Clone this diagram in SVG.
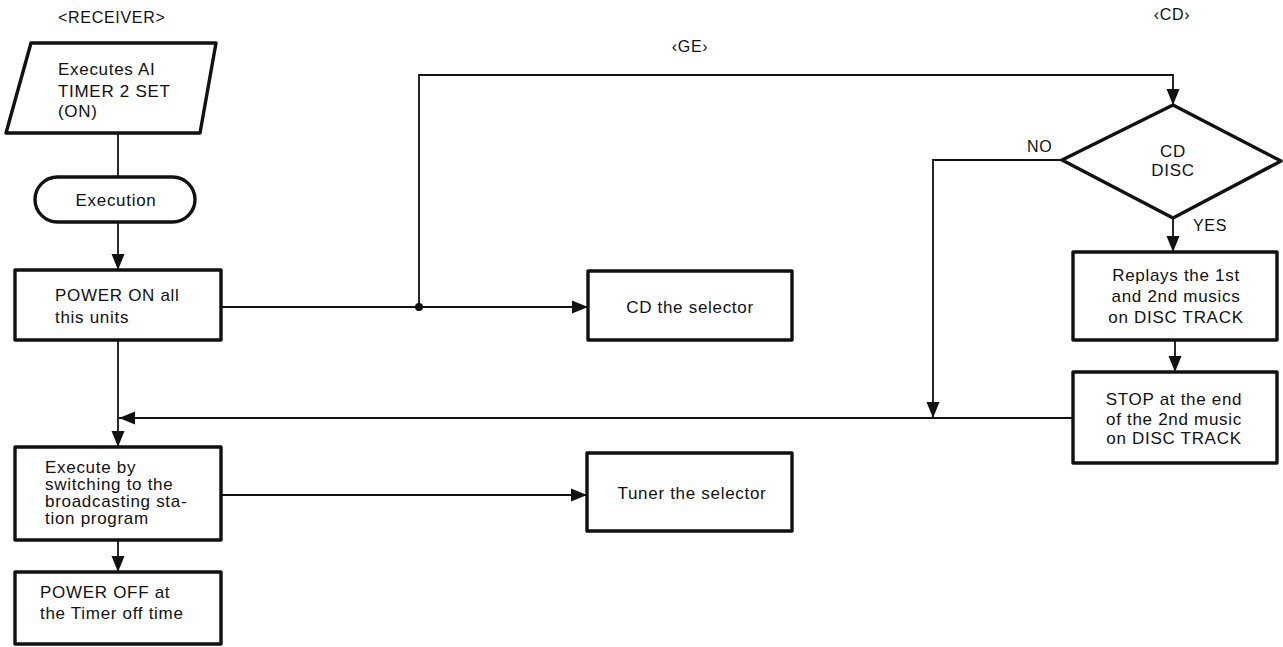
<svg xmlns="http://www.w3.org/2000/svg" width="1283" height="647" viewBox="0 0 1283 647">
<style>
  .box { fill: #fff; stroke: #111; stroke-width: 3.4; stroke-linejoin: round; }
  .ln { fill: none; stroke: #111; stroke-width: 1.8; }
  text { font-family: "Liberation Sans", Arial, sans-serif; font-size: 17px; fill: #111; letter-spacing: 0.7px; }
  .c { text-anchor: middle; }
  .lbl { font-size: 16px; }
</style>
<defs>
  <marker id="ah" markerUnits="userSpaceOnUse" markerWidth="18" markerHeight="16" refX="16" refY="8" orient="auto">
    <path d="M0,1.5 L16,8 L0,14.5 Z" fill="#111"/>
  </marker>
</defs>
<rect width="1283" height="647" fill="#fff"/>

<text x="58" y="23" class="lbl">&lt;RECEIVER&gt;</text>
<text x="690" y="52" class="c lbl">‹GE›</text>
<text x="1172" y="20" class="c lbl">‹CD›</text>

<g id="connectors">
  <path class="ln" d="M118,133 L118,177"/>
  <path class="ln" d="M118,222 L118,270" marker-end="url(#ah)"/>
  <path class="ln" d="M118,340 L118,447" marker-end="url(#ah)"/>
  <path class="ln" d="M1073,418 L119,418" marker-end="url(#ah)"/>
  <path class="ln" d="M221,307 L588,307" marker-end="url(#ah)"/>
  <path class="ln" d="M419,307 L419,75 L1173,75 L1173,105" marker-end="url(#ah)"/>
  <circle cx="419" cy="307" r="4" fill="#111"/>
  <path class="ln" d="M1062,160 L933,160 L933,418" marker-end="url(#ah)"/>
  <path class="ln" d="M1173,218 L1173,252" marker-end="url(#ah)"/>
  <path class="ln" d="M1175,340 L1175,372" marker-end="url(#ah)"/>
  <path class="ln" d="M221,495 L587,495" marker-end="url(#ah)"/>
  <path class="ln" d="M118,540 L118,572" marker-end="url(#ah)"/>
  <text x="1027" y="152" class="lbl">NO</text>
  <text x="1193" y="231" class="lbl">YES</text>
</g>

<g id="start">
  <polygon class="box" points="31,43 216,43 200,133 6,133"/>
  <text x="58" y="75">Executes AI</text>
  <text x="58" y="97">TIMER 2 SET</text>
  <text x="58" y="117">(ON)</text>
</g>

<g id="execution">
  <rect class="box" x="35" y="177" width="160" height="45" rx="22.5"/>
  <text x="116" y="206" class="c">Execution</text>
</g>

<g id="power-on">
  <rect class="box" x="15" y="270" width="206" height="70"/>
  <text x="55" y="301">POWER ON all</text>
  <text x="55" y="323">this units</text>
</g>

<g id="cd-selector">
  <rect class="box" x="588" y="271" width="204" height="69"/>
  <text x="690" y="313" class="c">CD the selector</text>
</g>

<g id="cd-disc">
  <polygon class="box" points="1173,105 1281,161 1173,218 1062,160"/>
  <text x="1173" y="157" class="c">CD</text>
  <text x="1173" y="176" class="c">DISC</text>
</g>

<g id="replays">
  <rect class="box" x="1073" y="252" width="204" height="88"/>
  <text x="1176" y="281" class="c">Replays the 1st</text>
  <text x="1176" y="302" class="c">and 2nd musics</text>
  <text x="1176" y="323" class="c">on DISC TRACK</text>
</g>

<g id="stop">
  <rect class="box" x="1073" y="372" width="204" height="91"/>
  <text x="1174" y="405" class="c">STOP at the end</text>
  <text x="1174" y="425" class="c">of the 2nd music</text>
  <text x="1174" y="444" class="c">on DISC TRACK</text>
</g>

<g id="execute-switch">
  <rect class="box" x="15" y="447" width="206" height="93"/>
  <text x="45" y="473">Execute by</text>
  <text x="45" y="490">switching to the</text>
  <text x="45" y="507">broadcasting sta-</text>
  <text x="45" y="524">tion program</text>
</g>

<g id="tuner-selector">
  <rect class="box" x="587" y="453" width="205" height="78"/>
  <text x="692" y="499" class="c">Tuner the selector</text>
</g>

<g id="power-off">
  <rect class="box" x="15" y="572" width="206" height="72"/>
  <text x="40" y="598">POWER OFF at</text>
  <text x="40" y="619">the Timer off time</text>
</g>
</svg>
